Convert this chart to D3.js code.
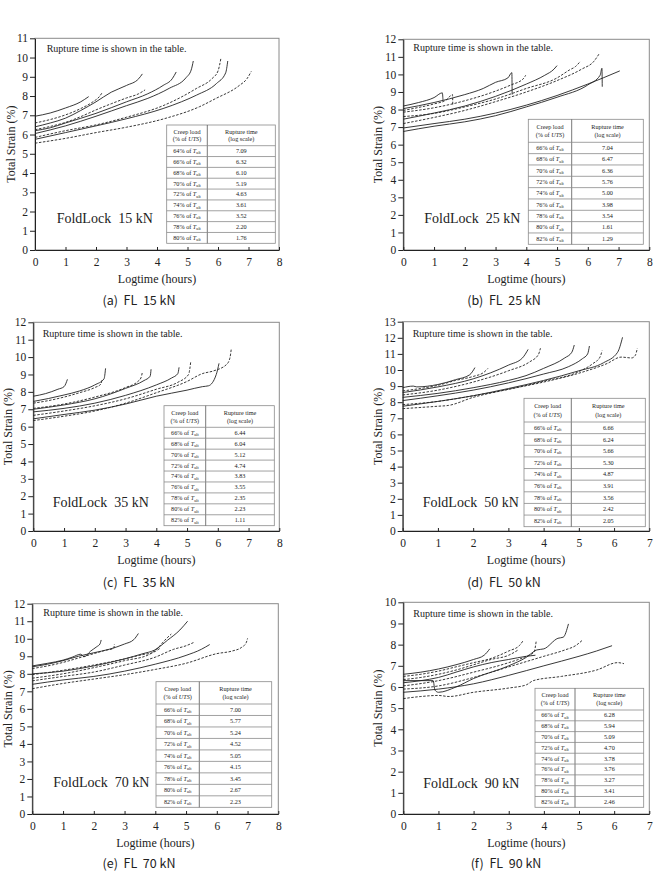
<!DOCTYPE html>
<html><head><meta charset="utf-8">
<script src="https://cdn.jsdelivr.net/npm/d3@7"></script>
<style>
body{margin:0;background:#fff}
svg{display:block}
text{fill:#222}
</style>
</head><body>
<svg id="c" width="657" height="872"></svg>
<script>
// ---------- DATA ----------
const xTicks8 = [0,1,2,3,4,5,6,7,8];
const xTicks7 = [0,1,2,3,4,5,6,7];

// creep loads (% of UTS) per panel, rows top to bottom
const loadsA = [64,66,68,70,72,74,76,78,80];
const loadsB = [66,68,70,72,74,76,78,80,82];
const loadsC = [66,68,70,72,74,76,78,80,82];
const loadsD = [66,68,70,72,74,76,78,80,82];
const loadsE = [66,68,70,72,74,76,78,80,82];
const loadsF = [66,68,70,72,74,76,78,80,82];

// rupture time (log scale) from the tables
const ruptureA = ["7.09","6.32","6.10","5.19","4.63","3.61","3.52","2.20","1.76"];
const ruptureB = ["7.04","6.47","6.36","5.76","5.00","3.98","3.54","1.61","1.29"];
const ruptureC = ["6.44","6.04","5.12","4.74","3.83","3.55","2.35","2.23","1.11"];
const ruptureD = ["6.66","6.24","5.66","5.30","4.87","3.91","3.56","2.42","2.05"];
const ruptureE = ["7.00","5.77","5.24","4.52","5.05","4.15","3.45","2.67","2.23"];
const ruptureF = ["6.28","5.94","5.09","4.70","3.78","3.76","3.27","3.41","2.46"];

// creep curves: [logtime (h), total strain (%)], same order as the loads
const curvesA = [
  [[0,5.55],[1,5.8],[2,6.1],[3,6.38],[4.3,6.85],[5.4,7.45],[5.9,7.85],[6.7,8.55],[6.95,8.9],[7.09,9.28]],
  [[0,5.75],[1,6.1],[2,6.45],[3,6.82],[4.2,7.35],[4.8,7.7],[5.3,8.05],[5.95,8.65],[6.25,9.2],[6.32,9.82]],
  [[0,5.85],[1,6.2],[2,6.5],[3,6.9],[4.2,7.5],[4.8,7.95],[5.3,8.4],[5.8,8.9],[6.0,9.3],[6.1,10.0]],
  [[0,6.05],[1,6.45],[2,6.95],[3,7.5],[3.7,7.88],[4.4,8.4],[4.95,8.95],[5.12,9.35],[5.19,9.82]],
  [[0,6.2],[0.5,6.35],[1,6.6],[2,7.1],[3,7.7],[3.7,8.12],[4.2,8.55],[4.5,8.9],[4.63,9.25]],
  [[0,6.25],[0.5,6.42],[1,6.63],[1.5,6.93],[2,7.28],[2.5,7.6],[3,7.9],[3.4,8.12],[3.61,8.32]],
  [[0,6.4],[0.5,6.6],[1,6.85],[1.5,7.25],[2,7.7],[2.5,8.2],[3,8.55],[3.4,8.9],[3.52,9.15]],
  [[0,6.6],[0.5,6.78],[1,7.02],[1.5,7.35],[1.9,7.7],[2.1,7.95],[2.2,8.17]],
  [[0,6.95],[0.5,7.12],[1,7.38],[1.5,7.7],[1.76,7.97]]
];
const dashA = [1,0,1,0,0,1,0,1,0];

const curvesB = [
  [[0,6.95],[1,7.2],[2,7.45],[3,7.8],[4,8.25],[5,8.8],[6,9.45],[7.04,10.2]],
  [[0,6.75],[1,7.05],[2,7.3],[3,7.65],[4,8.15],[5,8.7],[6,9.4],[6.4,9.95],[6.46,10.35],[6.47,9.3]],
  [[0,7.2],[1,7.55],[2,7.95],[3,8.45],[4,9.0],[5,9.65],[5.8,10.3],[6.2,10.75],[6.36,11.15]],
  [[0,7.6],[1,7.78],[2,8.15],[3,8.6],[4,9.2],[5,9.8],[5.4,10.25],[5.6,10.45],[5.76,10.75]],
  [[0,7.45],[1,7.8],[2,8.2],[3,8.75],[4,9.45],[4.6,9.95],[4.9,10.3],[5.0,10.5]],
  [[0,7.85],[1,8.1],[2,8.5],[3,9.05],[3.5,9.4],[3.9,9.75],[3.98,9.95]],
  [[0,8.05],[1,8.4],[2,8.85],[2.6,9.2],[3,9.55],[3.4,9.8],[3.53,10.1],[3.54,8.85]],
  [[0,7.95],[0.5,8.12],[1,8.32],[1.4,8.55],[1.6,8.85],[1.61,8.2]],
  [[0,8.2],[0.5,8.4],[1,8.68],[1.27,8.95],[1.29,8.55]]
];
const dashB = [0,0,1,1,0,1,0,1,0];

const curvesC = [
  [[0,6.35],[1,6.6],[2,6.9],[3,7.35],[4,7.95],[5,8.6],[5.5,9.05],[5.85,9.2],[6.3,9.6],[6.4,10.0],[6.44,10.5]],
  [[0,6.45],[1,6.7],[2,6.95],[3,7.3],[4,7.75],[5,8.1],[5.5,8.3],[5.7,8.35],[5.95,9.0],[6.04,9.64]],
  [[0,6.65],[1,6.9],[2,7.2],[3,7.6],[4,8.15],[4.7,8.55],[5.05,9.0],[5.12,9.74]],
  [[0,6.85],[1,7.05],[2,7.35],[3,7.8],[4,8.4],[4.5,8.8],[4.7,9.05],[4.74,9.41]],
  [[0,7.0],[1,7.25],[2,7.6],[3,8.2],[3.6,8.65],[3.8,8.9],[3.83,9.3]],
  [[0,7.05],[1,7.3],[2,7.7],[3,8.25],[3.4,8.6],[3.5,8.8],[3.55,9.16]],
  [[0,7.45],[0.5,7.62],[1,7.82],[1.5,8.05],[2,8.4],[2.3,8.75],[2.35,9.35]],
  [[0,7.35],[0.5,7.5],[1,7.7],[1.5,7.95],[2,8.25],[2.2,8.45],[2.23,8.68]],
  [[0,7.75],[0.4,7.9],[0.8,8.15],[1.0,8.3],[1.11,8.72]]
];
const dashC = [1,0,1,0,0,1,0,1,0];

const curvesD = [
  [[0,7.6],[1,7.75],[1.3,7.8],[2,8.3],[3,8.8],[4,9.25],[5,9.8],[5.8,10.4],[6.2,10.8],[6.5,10.75],[6.6,10.9],[6.66,11.35]],
  [[0,7.75],[1,8.05],[2,8.4],[3,8.85],[4,9.35],[5,9.95],[5.7,10.45],[6.1,11.1],[6.24,12.03]],
  [[0,7.85],[1,8.05],[2,8.4],[3,8.8],[4,9.3],[5,9.9],[5.4,10.4],[5.6,10.8],[5.66,11.2]],
  [[0,8.1],[1,8.4],[2,8.75],[3,9.2],[4,9.75],[4.7,10.2],[5.1,10.7],[5.25,11.0],[5.3,11.49]],
  [[0,8.3],[1,8.55],[2,8.9],[3,9.35],[3.5,9.65],[4,10.1],[4.6,10.75],[4.8,11.1],[4.87,11.55]],
  [[0,8.45],[1,8.75],[2,9.25],[3,9.95],[3.6,10.5],[3.85,10.95],[3.91,11.35]],
  [[0,8.6],[1,8.95],[2,9.45],[3,10.3],[3.4,10.75],[3.56,11.28]],
  [[0,8.7],[0.5,8.85],[1,9.05],[1.5,9.35],[2,9.6],[2.3,9.85],[2.42,10.1]],
  [[0,8.9],[0.3,9.0],[0.4,8.95],[1,9.1],[1.5,9.4],[1.9,9.7],[2.05,10.15]]
];
const dashD = [1,0,1,0,0,1,0,1,0];

const curvesE = [
  [[0,7.15],[1,7.45],[2,7.7],[3,7.95],[4,8.25],[5,8.6],[6,9.15],[6.5,9.3],[6.8,9.5],[6.95,9.75],[7.0,10.02]],
  [[0,7.4],[1,7.65],[2,7.85],[3,8.15],[4,8.55],[5,9.05],[5.5,9.4],[5.77,9.67]],
  [[0,7.6],[1,7.85],[2,8.1],[3,8.5],[4,8.95],[4.6,9.4],[5.0,9.6],[5.24,9.78]],
  [[0,7.75],[1,8.0],[2,8.35],[3,8.75],[3.8,9.1],[4.1,9.5],[4.3,9.9],[4.52,10.27]],
  [[0,8.0],[1,8.15],[2,8.45],[3,8.85],[3.6,9.15],[3.97,9.35],[4.4,9.92],[4.8,10.5],[5.05,11.0]],
  [[0,7.95],[1,8.2],[2,8.5],[3,8.85],[3.6,9.1],[3.9,9.2],[4.15,9.45]],
  [[0,8.4],[0.5,8.55],[1,8.75],[1.5,9.0],[2,9.2],[2.5,9.4],[3,9.7],[3.3,9.95],[3.45,10.3]],
  [[0,8.3],[0.5,8.45],[1,8.65],[1.5,8.9],[2,9.15],[2.4,9.35],[2.65,9.45],[2.67,9.7]],
  [[0,8.45],[0.5,8.6],[1,8.78],[1.3,8.95],[1.58,9.12],[1.68,8.97],[1.9,9.3],[2.1,9.55],[2.2,9.7],[2.24,9.93]]
];
const dashE = [1,0,1,1,0,1,0,1,0];

const curvesF = [
  [[0,5.45],[0.5,5.55],[1,5.6],[1.3,5.55],[2,5.75],[3,5.95],[3.5,6.1],[3.7,6.3],[4.5,6.5],[5.5,6.8],[6.1,7.15],[6.28,7.1]],
  [[0,5.75],[1,5.9],[2,6.15],[3,6.55],[4,7.0],[5,7.45],[5.5,7.7],[5.94,7.95]],
  [[0,5.9],[1,6.05],[2,6.45],[3,6.95],[4,7.45],[4.6,7.75],[4.9,7.95],[5.09,8.2]],
  [[0,6.3],[0.85,6.3],[0.9,5.85],[1.0,5.75],[1.5,6.0],[2,6.4],[3,7.0],[3.5,7.4],[3.8,7.75],[4.0,7.8],[4.4,8.3],[4.55,8.35],[4.7,8.98]],
  [[0,6.05],[1,6.3],[2,6.7],[3,7.15],[3.5,7.45],[3.72,7.65],[3.78,8.14]],
  [[0,6.2],[0.5,6.3],[1,6.45],[1.5,6.7],[2,6.95],[2.5,7.15],[3,7.3],[3.5,7.45],[3.76,7.5]],
  [[0,6.35],[0.5,6.45],[1,6.6],[1.5,6.8],[2,7.05],[2.5,7.3],[3.0,7.5],[3.27,7.75]],
  [[0,6.5],[0.5,6.6],[1,6.75],[1.5,6.95],[2,7.15],[2.5,7.35],[3,7.7],[3.3,7.95],[3.41,8.19]],
  [[0,6.6],[0.5,6.7],[1,6.85],[1.5,7.05],[2,7.3],[2.3,7.5],[2.46,7.8]]
];
const dashF = [1,0,1,0,1,0,1,1,0];

const titles = ["FoldLock  15 kN","FoldLock  25 kN","FoldLock  35 kN","FoldLock  50 kN","FoldLock  70 kN","FoldLock  90 kN"];
const captions = ["(a)  FL  15 kN","(b)  FL  25 kN","(c)  FL  35 kN","(d)  FL  50 kN","(e)  FL  70 kN","(f)  FL  90 kN"];
const yMaxes = [11,12,12,13,12,10];

// ---------- LAYOUT ----------
const SERIF = "'Liberation Serif','Times New Roman',serif";
const SANS = "'Noto Sans CJK KR','Noto Sans',sans-serif";
const panels = [
  {box:[35,279,38.3,250], xt:xTicks8, ym:yMaxes[0], loads:loadsA, rup:ruptureA, curves:curvesA, dash:dashA,
   tab:[166.7,275.3,125,243.3,207.3,145.7], lab:[56.7,223], note:[46.7,52], ytx:7, cap:[139,305]},
  {box:[403.3,649.3,39.3,250], xt:xTicks8, ym:yMaxes[1], loads:loadsB, rup:ruptureB, curves:curvesB, dash:dashB,
   tab:[528.3,643.3,119.3,244.3,571.7,142.3], lab:[424.3,223], note:[413.3,51], ytx:373.5, cap:[504,305]},
  {box:[33.3,279.3,322.3,531], xt:xTicks8, ym:yMaxes[2], loads:loadsC, rup:ruptureC, curves:curvesC, dash:dashC,
   tab:[164,274.3,405.7,525.7,205.7,427.3], lab:[52.7,507], note:[42.7,337], ytx:4, cap:[139,587]},
  {box:[402.7,649.3,321.7,531], xt:xTicks7, ym:yMaxes[3], loads:loadsD, rup:ruptureD, curves:curvesD, dash:dashD,
   tab:[524,645.3,398.3,526.7,571.3,422], lab:[422.7,507], note:[412.7,337], ytx:373.5, cap:[504,587]},
  {box:[32.3,278.3,603.7,814], xt:xTicks8, ym:yMaxes[4], loads:loadsE, rup:ruptureE, curves:curvesE, dash:dashE,
   tab:[156,271.7,681.7,807.3,199.3,704], lab:[53.3,787], note:[43.3,616], ytx:4, cap:[139,868]},
  {box:[403.3,649.3,602.3,814], xt:xTicks7, ym:yMaxes[5], loads:loadsF, rup:ruptureF, curves:curvesF, dash:dashF,
   tab:[535,643.7,688.3,807.3,575,710], lab:[423.3,788], note:[413.3,617], ytx:373.5, cap:[506,868]}
];

const svg = d3.select("#c");

panels.forEach((p,i)=>{
  const [L,R,T,B] = p.box;
  const xmax = p.xt[p.xt.length-1];
  const x = d3.scaleLinear().domain([0,xmax]).range([L,R]);
  const y = d3.scaleLinear().domain([0,p.ym]).range([B,T]);
  const g = svg.append("g").style("font-family",SERIF);

  // frame
  g.append("rect").attr("x",L).attr("y",T).attr("width",R-L).attr("height",B-T)
    .attr("fill","none").attr("stroke","#8a8a8a").attr("stroke-width",1);

  // axes
  const ya = g.append("g").attr("transform",`translate(${L},0)`)
    .call(d3.axisLeft(y).tickValues(d3.range(0,p.ym+1)).tickFormat(d3.format("d"))
      .tickSizeInner(5).tickSizeOuter(0).tickPadding(2));
  const xa = g.append("g").attr("transform",`translate(0,${B})`)
    .call(d3.axisBottom(x).tickValues(p.xt).tickFormat(d3.format("d"))
      .tickSizeInner(-3).tickSizeOuter(0).tickPadding(8));
  [ya,xa].forEach(a=>{
    a.select(".domain").attr("stroke","#222");
    a.selectAll(".tick line").attr("stroke","#222");
    a.selectAll("text").style("font-family",SERIF).style("font-size","11.5px").style("fill","#222");
  });

  // axis titles
  g.append("text").attr("x",(L+R)/2).attr("y",B+33).attr("text-anchor","middle")
    .style("font-size","12px").text("Logtime (hours)");
  g.append("text").attr("transform",`translate(${p.ytx},${(T+B)/2}) rotate(-90)`)
    .attr("text-anchor","middle").attr("dy","0.7em").style("font-size","12px").text("Total Strain (%)");

  // curves
  const line = d3.line().x(d=>x(d[0])).y(d=>y(d[1])).curve(d3.curveMonotoneX);
  g.selectAll("path.curve").data(p.curves).join("path").attr("class","curve")
    .attr("d",line).attr("fill","none").attr("stroke","#222").attr("stroke-width",0.9)
    .attr("stroke-dasharray",(d,k)=>p.dash[k]?"2.5,1.5":null);

  // note text
  g.append("text").attr("x",p.note[0]).attr("y",p.note[1]).style("font-size","10px").text("Rupture time is shown in the table.");
  // panel label
  g.append("text").attr("x",p.lab[0]).attr("y",p.lab[1]).style("font-size","14px")
    .style("white-space","pre").text(titles[i]);

  // table
  const [tx0,tx1,ty0,ty1,tdiv,thb] = p.tab;
  const tg = g.append("g");
  tg.append("rect").attr("x",tx0).attr("y",ty0).attr("width",tx1-tx0).attr("height",ty1-ty0)
    .attr("fill","#fff").attr("stroke","#8a8a8a").attr("stroke-width",0.8);
  tg.append("line").attr("x1",tdiv).attr("x2",tdiv).attr("y1",ty0).attr("y2",ty1).attr("stroke","#555").attr("stroke-width",0.8);
  const rh = (ty1-thb)/p.loads.length;
  const rowY = p.loads.map((_,k)=>thb+k*rh);
  tg.selectAll("line.row").data(rowY).join("line").attr("class","row")
    .attr("x1",tx0).attr("x2",tx1).attr("y1",d=>d).attr("y2",d=>d).attr("stroke","#8a8a8a").attr("stroke-width",0.8);
  const c1 = (tx0+tdiv)/2, c2 = (tdiv+tx1)/2;
  const fs = "6.2px";
  tg.append("text").attr("x",c1).attr("y",ty0+(thb-ty0)*0.42).attr("text-anchor","middle").style("font-size",fs).text("Creep load");
  const h1b = tg.append("text").attr("x",c1).attr("y",ty0+(thb-ty0)*0.78).attr("text-anchor","middle").style("font-size",fs);
  h1b.append("tspan").text("(% of ");
  h1b.append("tspan").style("font-style","italic").text("UTS");
  h1b.append("tspan").text(")");
  tg.append("text").attr("x",c2).attr("y",ty0+(thb-ty0)*0.42).attr("text-anchor","middle").style("font-size",fs).text("Rupture time");
  tg.append("text").attr("x",c2).attr("y",ty0+(thb-ty0)*0.78).attr("text-anchor","middle").style("font-size",fs).text("(log scale)");
  const rows = tg.selectAll("g.r").data(p.loads).join("g").attr("class","r");
  rows.each(function(ld,k){
    const t = d3.select(this).append("text").attr("x",c1).attr("y",rowY[k]+rh*0.68)
      .attr("text-anchor","middle").style("font-size",fs);
    t.append("tspan").text(ld+"% of ");
    t.append("tspan").style("font-style","italic").text("T");
    t.append("tspan").style("font-size","4.2px").attr("dy",1.3).text("ult");
    d3.select(this).append("text").attr("x",c2).attr("y",rowY[k]+rh*0.68)
      .attr("text-anchor","middle").style("font-size",fs).text(p.rup[k]);
  });

  // caption
  svg.append("text").attr("x",p.cap[0]).attr("y",p.cap[1]).attr("text-anchor","middle")
    .style("font-family",SANS).style("font-size","12.5px")
    .style("white-space","pre").text(captions[i]);
});
</script>
</body></html>
